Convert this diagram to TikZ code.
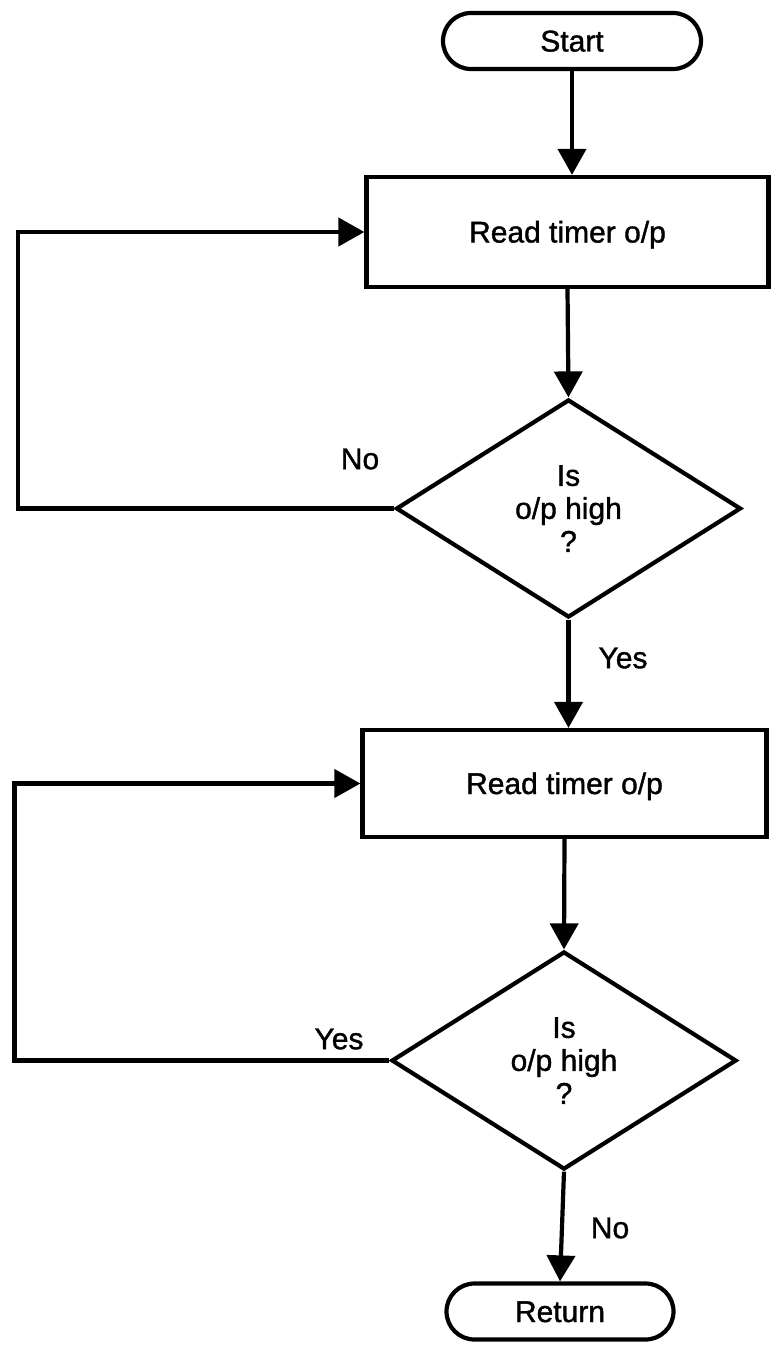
\documentclass[tikz,border=0pt]{standalone}
\usepackage{fontspec}
\setmainfont{Liberation Sans}[BoldFont=Liberation Sans, BoldFeatures={FakeBold=1.2}]
\usetikzlibrary{shapes.geometric,arrows.meta}
\begin{document}
\begin{tikzpicture}[x=1pt,y=-1pt,
  line width=4.2pt,
  every node/.style={font=\fontsize{30}{33}\selectfont\bfseries, inner sep=0pt},
  terminal/.style={draw, rectangle, rounded corners=28pt, minimum height=56pt, text height=21pt, text depth=0pt},
  process/.style={draw, rectangle, text height=21pt, text depth=0pt},
  decision/.style={draw, diamond, align=center, minimum width=345pt, minimum height=218pt},
  flow/.style={-{Triangle[length=26pt,width=28pt]}, line join=miter},
  lbl/.style={}
]
\useasboundingbox (0,0) rectangle (771,1346);

% blocks
\node[terminal, minimum width=258pt] (start) at (572,41) {Start};
\node[process, minimum width=402pt, minimum height=110pt] (b1) at (567.5,232) {Read timer o/p};
\node[decision] (d1) at (568.5,508.5) {Is\\o/p high\\?};
\node[process, minimum width=404pt, minimum height=107pt] (b2) at (564.5,783.5) {Read timer o/p};
\node[decision] (d2) at (564,1060.5) {Is\\o/p high\\?};
\node[terminal, minimum width=227pt] (ret) at (560,1311.5) {Return};

% branch labels
\node[lbl] (lno1) at (360,459) {No};
\node[lbl] (lyes1) at (623,658) {Yes};
\node[lbl] (lyes2) at (339,1039) {Yes};
\node[lbl] (lno2) at (610,1228) {No};

% main flow
\draw[flow] (start.south) -- (start.south |- b1.north);
\draw[flow] (b1.south) -- (d1.north);
\draw[flow] (d1.south) -- (d1.south |- b2.north);
\draw[flow] (b2.south) -- (d2.north);
\draw[flow] (d2.south) -- (ret.north);

% loops back to the read steps
\draw[flow] (d1.west) -- ++(-376,0) |- (b1.west);
\draw[flow] (d2.west) -- ++(-375,0) |- (b2.west);
\end{tikzpicture}
\end{document}
